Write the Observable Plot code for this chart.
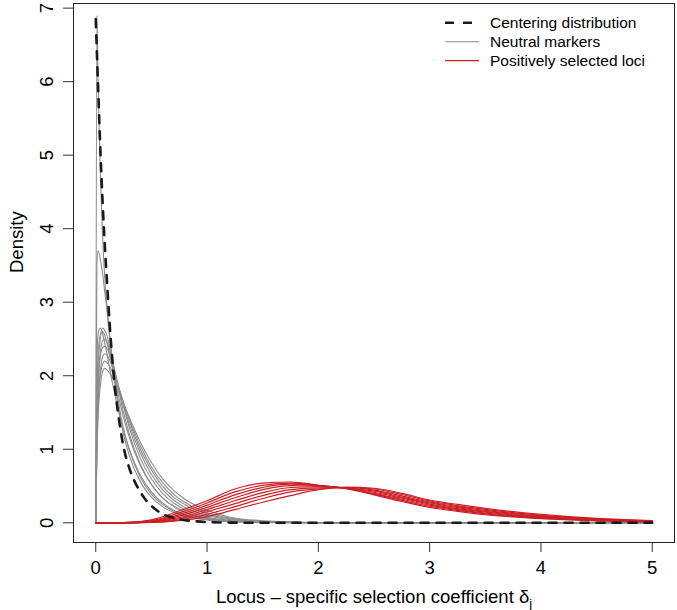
<!DOCTYPE html>
<html>
<head>
<meta charset="utf-8">
<script src="https://cdn.jsdelivr.net/npm/d3@7"></script>
<script src="https://cdn.jsdelivr.net/npm/@observablehq/plot@0.6"></script>
<style>
html,body{margin:0;padding:0;background:#fff;}
#wrap{position:relative;width:677px;height:610px;font-family:"Liberation Sans",Arial,Helvetica,sans-serif;}
#wrap svg.legend{position:absolute;left:0;top:0;pointer-events:none;}
</style>
</head>
<body>
<div id="wrap"></div>
<script>
// ---- axis ticks and text ----
const xTicks = [0, 1, 2, 3, 4, 5];
const yTicks = [0, 1, 2, 3, 4, 5, 6, 7];
const xTitle = "Locus – specific selection coefficient δ";
const xTitleSub = "j";
const yTitle = "Density";
const legendLabels = ["Centering distribution", "Neutral markers", "Positively selected loci"];

// ---- centering distribution (dashed) ----
const centerX = [0, 0.025, 0.05, 0.075, 0.1, 0.125, 0.15, 0.175, 0.2, 0.25, 0.3, 0.35, 0.4, 0.45, 0.5, 0.6, 0.7, 0.8, 0.9, 1.0, 1.2, 1.5, 2, 3, 4, 5];
const centerY = [6.85, 5.75, 4.75, 3.95, 3.3, 2.7, 2.2, 1.8, 1.5, 1.03, 0.75, 0.56, 0.42, 0.31, 0.23, 0.12, 0.065, 0.035, 0.02, 0.01, 0.003, 0, 0, 0, 0, 0];

// ---- neutral markers (grey) ----
const neutralX = [0, 0.01, 0.02, 0.04, 0.06, 0.08, 0.1, 0.15, 0.2, 0.25, 0.3, 0.4, 0.5, 0.6, 0.7, 0.8, 1.0, 1.2, 1.5, 2.0, 2.5, 3, 4, 5];
const neutral1  = [0, 6.9, 6.05, 4.8, 3.95, 3.35, 2.95, 2.15, 1.6, 1.2, 0.92, 0.56, 0.35, 0.22, 0.14, 0.09, 0.04, 0.018, 0.006, 0.001, 0, 0, 0, 0];
const neutral2  = [0, 3.5, 3.7, 3.6, 3.4, 3.15, 2.9, 2.2, 1.68, 1.28, 1.0, 0.62, 0.39, 0.25, 0.16, 0.105, 0.046, 0.02, 0.007, 0.001, 0, 0, 0, 0];
const neutral3  = [0, 2.2, 2.55, 2.65, 2.58, 2.45, 2.3, 1.9, 1.55, 1.25, 1.0, 0.65, 0.42, 0.27, 0.17, 0.11, 0.045, 0.02, 0.006, 0.001, 0, 0, 0, 0];
const neutral4  = [0, 1.5, 2.1, 2.5, 2.65, 2.62, 2.55, 2.2, 1.85, 1.5, 1.22, 0.8, 0.52, 0.34, 0.22, 0.14, 0.06, 0.025, 0.008, 0.001, 0, 0, 0, 0];
const neutral5  = [0, 1.7, 2.25, 2.55, 2.6, 2.55, 2.45, 2.1, 1.75, 1.43, 1.17, 0.78, 0.52, 0.34, 0.23, 0.15, 0.065, 0.03, 0.01, 0.002, 0, 0, 0, 0];
const neutral6  = [0, 1.2, 1.8, 2.3, 2.47, 2.5, 2.46, 2.2, 1.88, 1.58, 1.3, 0.88, 0.6, 0.4, 0.27, 0.18, 0.08, 0.035, 0.012, 0.002, 0, 0, 0, 0];
const neutral7  = [0, 1.3, 1.85, 2.25, 2.38, 2.4, 2.37, 2.15, 1.87, 1.6, 1.35, 0.95, 0.66, 0.45, 0.31, 0.21, 0.1, 0.045, 0.015, 0.003, 0, 0, 0, 0];
const neutral8  = [0, 1.0, 1.55, 2.05, 2.25, 2.3, 2.28, 2.12, 1.88, 1.63, 1.4, 1.0, 0.72, 0.5, 0.35, 0.25, 0.12, 0.055, 0.018, 0.003, 0.001, 0, 0, 0];
const neutral9  = [0, 1.1, 1.6, 2.0, 2.15, 2.2, 2.18, 2.05, 1.85, 1.63, 1.42, 1.05, 0.76, 0.55, 0.39, 0.28, 0.14, 0.065, 0.022, 0.004, 0.001, 0, 0, 0];
const neutral10 = [0, 0.9, 1.4, 1.85, 2.05, 2.1, 2.08, 1.98, 1.8, 1.62, 1.44, 1.1, 0.82, 0.6, 0.44, 0.32, 0.17, 0.08, 0.028, 0.005, 0.001, 0, 0, 0];
const neutralCurves = [neutral1, neutral2, neutral3, neutral4, neutral5, neutral6, neutral7, neutral8, neutral9, neutral10];

// ---- positively selected loci (red) ----
const selectedX = [0, 0.25, 0.5, 0.75, 1.0, 1.25, 1.5, 1.75, 2.0, 2.25, 2.5, 2.75, 3.0, 3.25, 3.5, 3.75, 4.0, 4.25, 4.5, 4.75, 5.0];
const selected1 = [0, 0.001, 0.04, 0.16, 0.30, 0.46, 0.54, 0.555, 0.51, 0.465, 0.38, 0.29, 0.21, 0.155, 0.11, 0.08, 0.056, 0.04, 0.027, 0.018, 0.012];
const selected2 = [0, 0.001, 0.03, 0.135, 0.27, 0.42, 0.51, 0.54, 0.51, 0.468, 0.39, 0.305, 0.225, 0.168, 0.122, 0.088, 0.063, 0.045, 0.031, 0.021, 0.014];
const selected3 = [0, 0.001, 0.022, 0.11, 0.24, 0.38, 0.48, 0.525, 0.505, 0.47, 0.40, 0.32, 0.24, 0.18, 0.133, 0.097, 0.07, 0.05, 0.035, 0.024, 0.016];
const selected4 = [0, 0, 0.016, 0.09, 0.21, 0.34, 0.45, 0.505, 0.50, 0.472, 0.415, 0.335, 0.255, 0.193, 0.144, 0.106, 0.077, 0.055, 0.039, 0.027, 0.018];
const selected5 = [0, 0, 0.012, 0.07, 0.18, 0.30, 0.41, 0.48, 0.49, 0.475, 0.43, 0.35, 0.27, 0.207, 0.156, 0.116, 0.085, 0.061, 0.043, 0.03, 0.02];
const selected6 = [0, 0, 0.008, 0.055, 0.15, 0.26, 0.37, 0.45, 0.475, 0.478, 0.445, 0.365, 0.283, 0.22, 0.168, 0.126, 0.093, 0.067, 0.048, 0.033, 0.022];
const selected7 = [0, 0, 0.006, 0.04, 0.115, 0.22, 0.33, 0.42, 0.46, 0.48, 0.46, 0.385, 0.297, 0.234, 0.182, 0.138, 0.103, 0.075, 0.053, 0.037, 0.025];
const selected8 = [0, 0, 0.004, 0.03, 0.085, 0.18, 0.28, 0.37, 0.45, 0.485, 0.47, 0.40, 0.31, 0.25, 0.197, 0.152, 0.115, 0.085, 0.06, 0.042, 0.028];
const selectedCurves = [selected1, selected2, selected3, selected4, selected5, selected6, selected7, selected8];

// ---- build tables for the library ----
const toRows = (xs, curves, prefix) => {
  const rows = [];
  curves.forEach((ys, i) => ys.forEach((y, j) => rows.push({x: xs[j], y, id: prefix + i})));
  return rows;
};
const neutralRows = toRows(neutralX, neutralCurves, "n");
const selectedRows = toRows(selectedX, selectedCurves, "s");
const centerRows = centerX.map((x, i) => ({x, y: centerY[i]}));

const FONT = '"Liberation Sans", Arial, Helvetica, sans-serif';
const GREY = "#8c8c8c", RED = "#cc1f24", DASH = "#1a1a1a";

const plot = Plot.plot({
  width: 677,
  height: 610,
  marginLeft: 73,
  marginRight: 3,
  marginTop: 3,
  marginBottom: 68,
  style: {fontFamily: FONT, fontSize: "18.5px", background: "#fff", color: "#000"},
  x: {domain: [-0.2, 5.2]},
  y: {domain: [-0.268, 7.063]},
  marks: [
    Plot.line(neutralRows, {x: "x", y: "y", z: "id", stroke: GREY, strokeWidth: 1.1, curve: "monotone-x"}),
    Plot.line(selectedRows, {x: "x", y: "y", z: "id", stroke: RED, strokeWidth: 1.2, curve: "monotone-x"}),
    Plot.line(centerRows, {x: "x", y: "y", stroke: DASH, strokeWidth: 2.6, strokeDasharray: "8,8", curve: "monotone-x"}),
    Plot.frame({stroke: "#222", strokeWidth: 1}),
    Plot.axisX({ticks: xTicks, tickSize: 10, tickPadding: 8.7, fontSize: 18.5, label: null, stroke: "#333", tickFormat: d => String(d)}),
    Plot.axisY({ticks: yTicks, tickSize: 10, tickRotate: -90, tickPadding: 11, fontSize: 18.5, label: null, stroke: "#333", tickFormat: d => String(d)}),
    Plot.text([xTitle], {text: d => d, frameAnchor: "bottom", dy: 55, fontSize: 18.5, lineAnchor: "middle", fill: "#000"}),
    Plot.text([yTitle], {text: d => d, frameAnchor: "left", dx: -56, rotate: -90, fontSize: 18.5, lineAnchor: "middle", fill: "#000"})
  ]
});

// subscript j on the x title
d3.select(plot).selectAll("text").filter(function () { return this.textContent === xTitle; })
  .each(function () {
    d3.select(this).append("tspan").attr("dy", "0.38em").attr("font-size", "13px").attr("fill", "#000").text(xTitleSub);
  });

const wrap = document.getElementById("wrap");
wrap.append(plot);

// ---- legend (top right, inside the plot box) ----
const legendStyles = [
  {stroke: DASH, width: 2.6, dash: "9,9"},
  {stroke: GREY, width: 1.1, dash: null},
  {stroke: RED, width: 1.2, dash: null}
];
const legend = d3.create("svg").attr("class", "legend").attr("width", 677).attr("height", 90);
const items = legend.selectAll("g").data(legendLabels).join("g")
  .attr("transform", (d, i) => `translate(0,${22.7 + i * 19})`);
items.append("line")
  .attr("x1", 445).attr("x2", 479).attr("y1", 0).attr("y2", 0)
  .attr("stroke", (d, i) => legendStyles[i].stroke)
  .attr("stroke-width", (d, i) => legendStyles[i].width)
  .attr("stroke-dasharray", (d, i) => legendStyles[i].dash);
items.append("text")
  .attr("x", 490).attr("y", 0).attr("dy", "0.35em")
  .attr("font-family", FONT).attr("font-size", 15.5).attr("fill", "#000")
  .text(d => d);
wrap.append(legend.node());
</script>
</body>
</html>
